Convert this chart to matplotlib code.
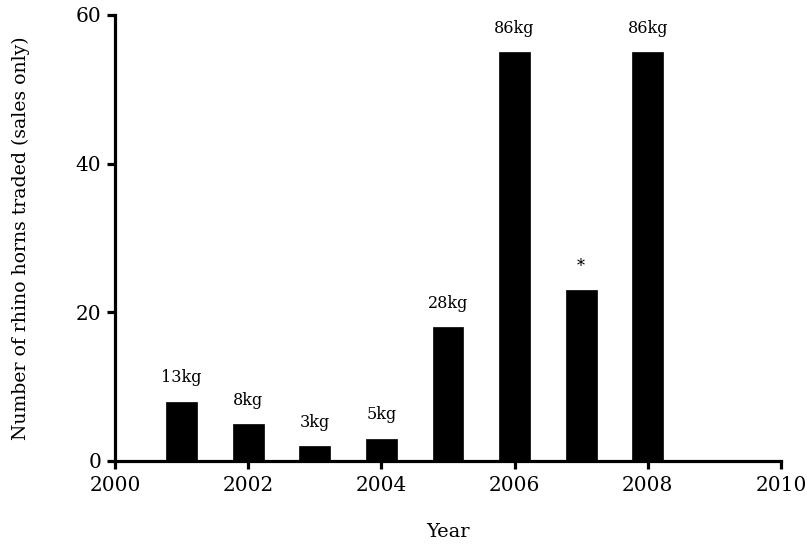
import matplotlib
matplotlib.use("Agg")
import matplotlib.pyplot as plt

years = [2001, 2002, 2003, 2004, 2005, 2006, 2007, 2008]
horns = [8, 5, 2, 3, 18, 55, 23, 55]
labels = ["13kg", "8kg", "3kg", "5kg", "28kg", "86kg", "*", "86kg"]
xticks = [2000, 2002, 2004, 2006, 2008, 2010]
yticks = [0, 20, 40, 60]

plt.rcParams['font.family'] = ['DejaVu Serif']

fig = plt.figure(figsize=(8.07, 5.44), dpi=100)
ax = fig.add_axes([115/807, 83/544, 666/807, 446/544])

ax.bar(years, horns, width=0.46, color='black', edgecolor='black', linewidth=0.5)
for x, v, t in zip(years, horns, labels):
    ax.annotate(t, (x, v), xytext=(0, 11), textcoords='offset points',
                ha='center', va='bottom', fontsize=11.5)

ax.set_xlim(2000, 2010)
ax.set_ylim(0, 60)
ax.set_xticks(xticks)
ax.set_yticks(yticks)
ax.spines['top'].set_visible(False)
ax.spines['right'].set_visible(False)
for s in ['left', 'bottom']:
    ax.spines[s].set_linewidth(2.3)
    ax.spines[s].set_capstyle('projecting')
ax.tick_params(axis='both', width=2.3, length=6, labelsize=14.5, direction='out')
ax.tick_params(axis='x', pad=5)
ax.tick_params(axis='y', pad=4)
ax.set_xlabel("Year", fontsize=14, labelpad=20)
ax.set_ylabel("Number of rhino horns traded (sales only)", fontsize=13.6, labelpad=33)

fig.savefig("out.png", dpi=100)
